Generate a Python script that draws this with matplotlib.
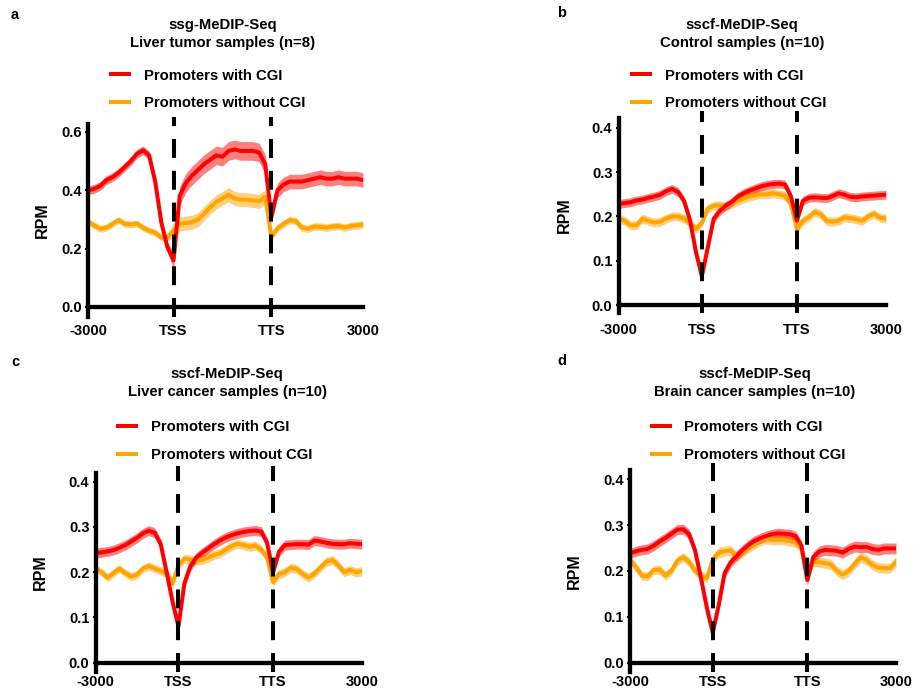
import numpy as np
import matplotlib
matplotlib.use('Agg')
import matplotlib.pyplot as plt

plt.rcParams['font.family'] = ['Liberation Sans', 'DejaVu Sans']
plt.rcParams['font.weight'] = 'bold'

# Позиции бинов: -3000 .. TSS .. TTS .. 3000
x_bins = np.arange(0, 91, 2)
tss_pos = 28
tts_pos = 60
tick_pos = [0, tss_pos, tts_pos, 90]
tick_labels = ['-3000', 'TSS', 'TTS', '3000']

series_names = ['Promoters with CGI', 'Promoters without CGI']

# Панель a
red_a = [0.400, 0.405, 0.415, 0.435, 0.445, 0.460, 0.480, 0.500, 0.525, 0.537,
         0.520, 0.430, 0.290, 0.205, 0.160, 0.380, 0.425, 0.450, 0.470, 0.490,
         0.505, 0.520, 0.515, 0.535, 0.540, 0.535, 0.535, 0.535, 0.530, 0.490,
         0.310, 0.400, 0.420, 0.430, 0.430, 0.430, 0.435, 0.440, 0.445, 0.440,
         0.440, 0.445, 0.440, 0.440, 0.440, 0.435]
orange_a = [0.292, 0.280, 0.268, 0.272, 0.285, 0.298, 0.285, 0.283, 0.286, 0.272,
            0.262, 0.255, 0.238, 0.240, 0.262, 0.285, 0.288, 0.290, 0.300, 0.320,
            0.342, 0.360, 0.372, 0.385, 0.372, 0.368, 0.368, 0.365, 0.362, 0.378,
            0.240, 0.270, 0.285, 0.298, 0.295, 0.272, 0.268, 0.276, 0.275, 0.272,
            0.276, 0.278, 0.272, 0.278, 0.280, 0.283]

# Панель b
red_b = [0.228, 0.230, 0.232, 0.236, 0.238, 0.242, 0.245, 0.249, 0.257, 0.262,
         0.255, 0.235, 0.192, 0.120, 0.065, 0.130, 0.195, 0.212, 0.224, 0.232,
         0.244, 0.252, 0.258, 0.263, 0.268, 0.271, 0.273, 0.274, 0.272, 0.245,
         0.190, 0.235, 0.242, 0.243, 0.242, 0.241, 0.246, 0.252, 0.249, 0.244,
         0.243, 0.245, 0.246, 0.247, 0.248, 0.249]
orange_b = [0.195, 0.190, 0.180, 0.180, 0.195, 0.190, 0.186, 0.188, 0.195, 0.200,
            0.200, 0.195, 0.185, 0.172, 0.185, 0.218, 0.224, 0.225, 0.222, 0.228,
            0.235, 0.240, 0.245, 0.248, 0.250, 0.250, 0.252, 0.250, 0.246, 0.228,
            0.172, 0.190, 0.198, 0.210, 0.205, 0.190, 0.188, 0.190, 0.198, 0.196,
            0.193, 0.190, 0.200, 0.206, 0.197, 0.195]

# Панель c
red_c = [0.242, 0.244, 0.246, 0.249, 0.254, 0.260, 0.268, 0.276, 0.286, 0.292,
         0.287, 0.262, 0.200, 0.135, 0.080, 0.175, 0.213, 0.232, 0.243, 0.252,
         0.262, 0.270, 0.277, 0.282, 0.286, 0.289, 0.291, 0.292, 0.290, 0.265,
         0.200, 0.245, 0.260, 0.261, 0.262, 0.262, 0.261, 0.270, 0.268, 0.265,
         0.263, 0.262, 0.262, 0.264, 0.263, 0.262]
orange_c = [0.208, 0.200, 0.188, 0.198, 0.208, 0.198, 0.190, 0.195, 0.208, 0.214,
            0.208, 0.203, 0.198, 0.175, 0.215, 0.230, 0.228, 0.226, 0.227, 0.232,
            0.238, 0.242, 0.250, 0.258, 0.263, 0.260, 0.256, 0.259, 0.250, 0.232,
            0.178, 0.196, 0.200, 0.210, 0.207, 0.196, 0.188, 0.197, 0.210, 0.223,
            0.227, 0.216, 0.200, 0.205, 0.200, 0.202]

# Панель d
red_d = [0.238, 0.243, 0.246, 0.248, 0.255, 0.264, 0.272, 0.281, 0.290, 0.291,
         0.280, 0.245, 0.185, 0.120, 0.065, 0.125, 0.195, 0.218, 0.232, 0.245,
         0.256, 0.265, 0.271, 0.276, 0.280, 0.282, 0.281, 0.280, 0.276, 0.255,
         0.180, 0.230, 0.242, 0.246, 0.245, 0.244, 0.240, 0.248, 0.253, 0.252,
         0.252, 0.248, 0.246, 0.249, 0.249, 0.249]
orange_d = [0.224, 0.208, 0.190, 0.188, 0.202, 0.203, 0.190, 0.200, 0.222, 0.230,
            0.220, 0.200, 0.190, 0.184, 0.225, 0.240, 0.243, 0.245, 0.232, 0.240,
            0.250, 0.258, 0.266, 0.270, 0.268, 0.268, 0.268, 0.265, 0.262, 0.250,
            0.190, 0.220, 0.219, 0.217, 0.214, 0.200, 0.192, 0.200, 0.215, 0.230,
            0.224, 0.213, 0.207, 0.206, 0.206, 0.220]

# SEM по участкам: upstream, gene body, downstream
sem_red_a = [0.015, 0.032, 0.025]
sem_orange_a = [0.012, 0.024, 0.013]
sem_red_b = [0.010, 0.010, 0.010]
sem_orange_b = [0.010, 0.010, 0.010]
sem_red_c = [0.011, 0.011, 0.011]
sem_orange_c = [0.009, 0.010, 0.010]
sem_red_d = [0.011, 0.011, 0.012]
sem_orange_d = [0.010, 0.011, 0.011]

titles = ['ssg-MeDIP-Seq\nLiver tumor samples (n=8)',
          'sscf-MeDIP-Seq\nControl samples (n=10)',
          'sscf-MeDIP-Seq\nLiver cancer samples (n=10)',
          'sscf-MeDIP-Seq\nBrain cancer samples (n=10)']
letters = ['a', 'b', 'c', 'd']

red_color = '#ff0000'
orange_color = '#ffa500'

W, H = 913, 692


def expand_sem(sem):
    region = np.where(x_bins < tss_pos, 0, np.where(x_bins < tts_pos, 1, 2))
    return np.array(sem)[region]


fig = plt.figure(figsize=(W / 100, H / 100), dpi=100)

# box = (left, bottom, right, top) в пикселях
panels = [
    dict(box=(88, 316.7, 363, 124), ylim=(-0.0333, 0.6274), yticks=[0.0, 0.2, 0.4, 0.6],
         red=red_a, orange=orange_a, sr=sem_red_a, so=sem_orange_a,
         title_xy=(223, 34), leg_xy=(111, 68.5), letter_xy=(15, 15), ylab_x=-0.138, xpad=12),
    dict(box=(618.7, 313, 886, 118), ylim=(-0.018, 0.422), yticks=[0.0, 0.1, 0.2, 0.3, 0.4],
         red=red_b, orange=orange_b, sr=sem_red_b, so=sem_orange_b,
         title_xy=(741.7, 34), leg_xy=(632.3, 68.5), letter_xy=(561.7, 13.3), ylab_x=-0.176, xpad=13),
    dict(box=(95.7, 671.7, 361.7, 472.7), ylim=(-0.02, 0.42), yticks=[0.0, 0.1, 0.2, 0.3, 0.4],
         red=red_c, orange=orange_c, sr=sem_red_c, so=sem_orange_c,
         title_xy=(227, 383), leg_xy=(118.3, 420.5), letter_xy=(15.7, 362), ylab_x=-0.18, xpad=9),
    dict(box=(630, 671.7, 896, 470), ylim=(-0.0196, 0.42), yticks=[0.0, 0.1, 0.2, 0.3, 0.4],
         red=red_d, orange=orange_d, sr=sem_red_d, so=sem_orange_d,
         title_xy=(754.7, 383), leg_xy=(651.7, 420.5), letter_xy=(561.7, 361), ylab_x=-0.18, xpad=9),
]

for i, p in enumerate(panels):
    l, b, r, t = p['box']
    ax = fig.add_axes([l / W, 1 - b / H, (r - l) / W, (b - t) / H])

    red = np.array(p['red'])
    orange = np.array(p['orange'])
    sr = expand_sem(p['sr'])
    so = expand_sem(p['so'])

    ax.fill_between(x_bins, orange - so, orange + so, color=orange_color, alpha=0.5, lw=0, zorder=2)
    ax.fill_between(x_bins, red - sr, red + sr, color=red_color, alpha=0.5, lw=0, zorder=3)
    h2, = ax.plot(x_bins, orange, color=orange_color, lw=2.9, zorder=4, solid_joinstyle='round')
    h1, = ax.plot(x_bins, red, color=red_color, lw=2.9, zorder=5, solid_joinstyle='round')

    y0, y1 = p['ylim']
    for xv in (tss_pos, tts_pos):
        ax.plot([xv, xv], [y0, y1 + (y1 - y0) * 0.035], color='black', lw=2.9,
                linestyle=(0, (4.7, 3.2)), zorder=6, clip_on=False)

    ax.set_xlim(0, 90)
    ax.set_ylim(y0, y1)
    ax.spines['top'].set_visible(False)
    ax.spines['right'].set_visible(False)
    ax.spines['bottom'].set_position(('data', 0))
    for s in ('left', 'bottom'):
        ax.spines[s].set_linewidth(3.1)
        ax.spines[s].set_zorder(7)

    ax.set_xticks(tick_pos)
    ax.set_xticklabels(tick_labels)
    ax.set_yticks(p['yticks'])
    ax.set_yticklabels([f'{v:.1f}' for v in p['yticks']])
    ax.tick_params(axis='x', length=0, pad=p['xpad'], labelsize=10.5)
    ax.tick_params(axis='y', length=2.5, width=1.5, pad=2, labelsize=10.5)
    for lab in ax.get_xticklabels() + ax.get_yticklabels():
        lab.set_fontweight('bold')

    ax.set_ylabel('RPM', fontsize=11.5, fontweight='bold')
    ax.yaxis.set_label_coords(p['ylab_x'], 0.5)

    tx, ty = p['title_xy']
    fig.text(tx / W, 1 - ty / H, titles[i], ha='center', va='center',
             fontsize=10.7, fontweight='bold', linespacing=1.3)
    lx, ly = p['letter_xy']
    fig.text(lx / W, 1 - ly / H, letters[i], ha='center', va='center',
             fontsize=10.5, fontweight='bold')

    gx, gy = p['leg_xy']
    ax.legend([h1, h2], series_names, loc='upper left',
              bbox_to_anchor=(gx / W, 1 - gy / H), bbox_transform=fig.transFigure,
              frameon=False, borderpad=0, borderaxespad=0, handlelength=1.2,
              handletextpad=1.0, labelspacing=0.9,
              prop={'size': 10.7, 'weight': 'bold'})

fig.savefig('out.png', dpi=100)
print("saved out.png")
